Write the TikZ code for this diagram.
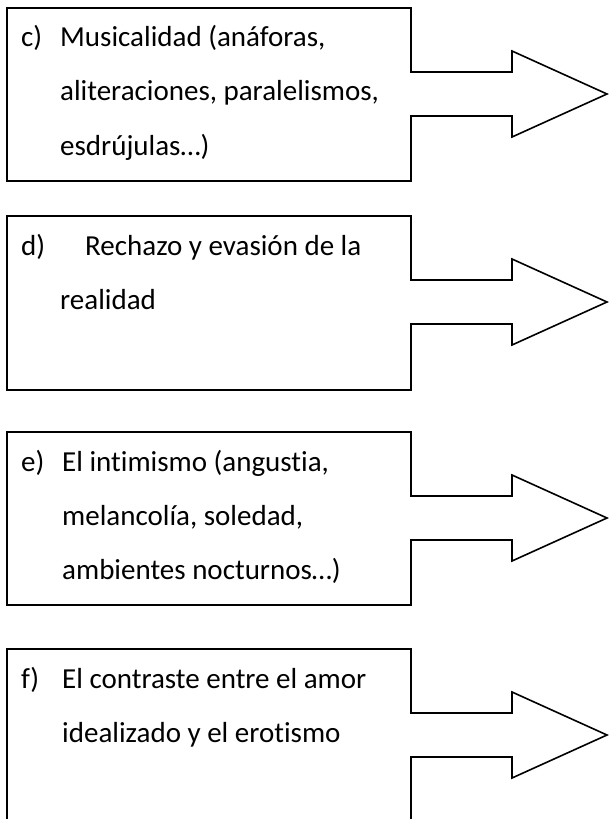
\documentclass[tikz,border=0pt]{standalone}
\usepackage{fontspec}
\setmainfont{Carlito}[Ligatures=NoCommon]

\tikzset{
 waku/.style={line width=1.6pt, line join=miter}, %枠と矢印
 moji/.style={inner sep=0pt, anchor=base west, font=\fontsize{29}{35}\selectfont} %文字
}

\begin{document}
\begin{tikzpicture}[x=1pt,y=-1pt]
 \useasboundingbox (0,0) rectangle (608,819); %全体の範囲
 \coordinate (C) at (7,8); %枠cの左上
 \coordinate (D) at (7,216); %枠dの左上
 \coordinate (E) at (7,432); %枠eの左上
 \coordinate (F) at (7,649); %枠fの左上

 \draw[waku] (C) -- ++(404,0) -- ++(0,64) -- ++(101,0) -- ++(0,-21) -- ++(95,43) -- ++(-95,43) -- ++(0,-21) -- ++(-101,0) -- ++(0,65) -- ++(-404,0) -- cycle; %枠c
 \draw[waku] (D) -- ++(404,0) -- ++(0,64) -- ++(101,0) -- ++(0,-21) -- ++(95,43) -- ++(-95,43) -- ++(0,-21) -- ++(-101,0) -- ++(0,66) -- ++(-404,0) -- cycle; %枠d
 \draw[waku] (E) -- ++(404,0) -- ++(0,64) -- ++(101,0) -- ++(0,-21) -- ++(95,43) -- ++(-95,43) -- ++(0,-21) -- ++(-101,0) -- ++(0,65) -- ++(-404,0) -- cycle; %枠e
 \draw[waku] (F) -- ++(404,0) -- ++(0,64) -- ++(101,0) -- ++(0,-21) -- ++(95,43) -- ++(-95,43) -- ++(0,-21) -- ++(-101,0) -- ++(0,65) -- ++(-404,0) -- cycle; %枠f

 \node[moji] (cL) at (21,46) {c)};
 \node[moji] (c1) at (60,46) {Musicalidad (anáforas,};
 \node[moji] (c2) at (60,100.5) {aliteraciones, paralelismos,};
 \node[moji] (c3) at (60,155) {esdrújulas…)};

 \node[moji] (dL) at (21,255) {d)};
 \node[moji] (d1) at (85,255) {Rechazo y evasión de la};
 \node[moji] (d2) at (60,309) {realidad};

 \node[moji] (eL) at (21,471) {e)};
 \node[moji] (e1) at (62,471) {El intimismo (angustia,};
 \node[moji] (e2) at (62,525) {melancolía, soledad,};
 \node[moji] (e3) at (62,579) {ambientes nocturnos…)};

 \node[moji] (fL) at (21,688) {f)};
 \node[moji] (f1) at (62,688) {El contraste entre el amor};
 \node[moji] (f2) at (62,742) {idealizado y el erotismo};
\end{tikzpicture}
\end{document}
